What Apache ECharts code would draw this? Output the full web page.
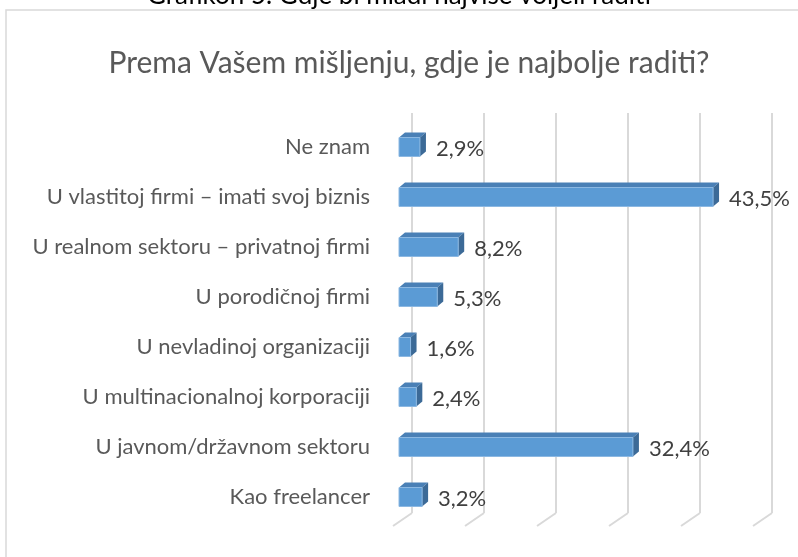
<!DOCTYPE html>
<html>

<head>
    <meta charset="utf-8">
    <script src="https://cdn.jsdelivr.net/npm/echarts@6/dist/echarts.min.js"></script>
    <style>
        body { margin: 0; background: #fff; }
    </style>
</head>

<body>
    <div id="main" style="width:798px; height:557px;"></div>
</body>

<script type="text/javascript">
    var categories = [
        'Ne znam',
        'U vlastitoj firmi – imati svoj biznis',
        'U realnom sektoru – privatnoj firmi',
        'U porodičnoj firmi',
        'U nevladinoj organizaciji',
        'U multinacionalnoj korporaciji',
        'U javnom/državnom sektoru',
        'Kao freelancer'
    ];
    var values = [2.9, 43.5, 8.2, 5.3, 1.6, 2.4, 32.4, 3.2];
    var gridTicks = [0, 10, 20, 30, 40, 50];

    var fontName = 'Lato';

    // depth of the fake 3d bars
    var dx = 6, dy = 5;

    var renderBar = function (params, api) {
        var idx = api.value(0);
        var val = api.value(1);
        var start = api.coord([0, idx]);
        var end = api.coord([val, idx]);
        var h = api.size([0, 1])[1] * 0.38;
        var top = start[1] - h / 2;
        var bot = start[1] + h / 2;
        var x0 = start[0], x1 = end[0];
        return {
            type: 'group',
            children: [
                {
                    type: 'polygon',
                    shape: { points: [[x0, top], [x0 + dx, top - dy], [x1 + dx, top - dy], [x1, top]] },
                    style: { fill: '#4a80b6' }
                },
                {
                    type: 'polygon',
                    shape: { points: [[x1, top], [x1 + dx, top - dy], [x1 + dx, bot - dy], [x1, bot]] },
                    style: { fill: '#3c6a97' }
                },
                {
                    type: 'rect',
                    shape: { x: x0, y: top, width: x1 - x0, height: h },
                    style: { fill: '#5b9bd5', stroke: '#8cb8e2', lineWidth: 1 }
                },
                {
                    type: 'text',
                    x: x1 + dx + 10,
                    y: start[1] + 2,
                    style: {
                        text: val.toFixed(1).replace('.', ',') + '%',
                        fill: '#404040',
                        fontSize: 22,
                        fontFamily: fontName,
                        verticalAlign: 'middle'
                    }
                }
            ]
        };
    };

    var renderFloor = function (params, api) {
        var p = api.coord([api.value(0), 0]);
        return {
            type: 'line',
            shape: { x1: p[0], y1: p[1], x2: p[0] - 19, y2: p[1] + 13 },
            style: { stroke: '#d9d9d9', lineWidth: 2 }
        };
    };

    var option = {
        animation: false,
        textStyle: { fontFamily: fontName },
        title: [
            {
                text: 'Grafikon 5. Gdje bi mladi najviše voljeli raditi',
                left: 'center',
                top: -22,
                textStyle: { color: '#000', fontSize: 26, fontWeight: 'normal', fontFamily: fontName }
            },
            {
                text: 'Prema Vašem mišljenju, gdje je najbolje raditi?',
                left: 404,
                textAlign: 'center',
                top: 43,
                textStyle: { color: '#595959', fontSize: 30, fontWeight: 'normal', fontFamily: fontName }
            }
        ],
        graphic: [{
            type: 'rect',
            shape: { x: 6, y: 10, width: 820, height: 580 },
            style: { fill: 'none', stroke: '#d9d9d9', lineWidth: 1.5 },
            silent: true
        }],
        grid: [
            { left: 412, right: 26, top: 113, bottom: 44 },
            { left: 399, right: 38, top: 122, bottom: 35 }
        ],
        xAxis: [
            {
                gridIndex: 0, type: 'value', min: 0, max: 50, interval: 10,
                axisLine: { show: false }, axisTick: { show: false }, axisLabel: { show: false },
                splitLine: { show: true, lineStyle: { color: '#d9d9d9', width: 2 } }
            },
            {
                gridIndex: 1, type: 'value', min: 0, max: 50, interval: 10,
                axisLine: { show: false }, axisTick: { show: false }, axisLabel: { show: false },
                splitLine: { show: false }
            }
        ],
        yAxis: [
            { gridIndex: 0, type: 'value', min: 0, max: 1, show: false },
            {
                gridIndex: 1, type: 'category', data: categories, inverse: true,
                axisLine: { show: false }, axisTick: { show: false },
                axisLabel: { margin: 29, color: '#595959', fontSize: 22, fontFamily: fontName, padding: [6, 0, 0, 0] }
            }
        ],
        series: [
            {
                type: 'custom',
                xAxisIndex: 0, yAxisIndex: 0,
                renderItem: renderFloor,
                data: gridTicks.map(function (t) { return [t]; }),
                encode: { x: 0 },
                silent: true
            },
            {
                type: 'custom',
                xAxisIndex: 1, yAxisIndex: 1,
                renderItem: renderBar,
                data: values.map(function (v, i) { return [i, v]; }),
                encode: { y: 0, x: 1 },
                silent: true
            }
        ]
    };

    var chart = echarts.init(document.getElementById('main'));
    chart.setOption(option);
</script>

</html>
